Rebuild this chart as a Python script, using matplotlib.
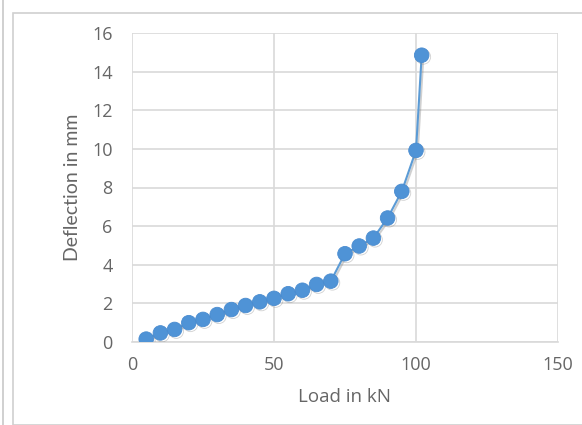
import matplotlib
matplotlib.use("Agg")
import matplotlib.pyplot as plt
import matplotlib.patheffects as pe
from matplotlib.patches import Rectangle
from matplotlib.lines import Line2D

load_kN = [5, 10, 15, 20, 25, 30, 35, 40, 45, 50, 55, 60, 65, 70,
           75, 80, 85, 90, 95, 100, 102]
deflection_mm = [0.15, 0.47, 0.65, 1.0, 1.17, 1.42, 1.68, 1.89, 2.08, 2.26,
                 2.5, 2.68, 2.98, 3.15, 4.57, 4.97, 5.38, 6.42, 7.8, 9.92, 14.85]
x_ticks = [0, 50, 100, 150]
y_ticks = [0, 2, 4, 6, 8, 10, 12, 14, 16]

plt.rcParams['font.family'] = ['Open Sans', 'DejaVu Sans']
txt = '#666666'

fig = plt.figure(figsize=(5.82, 4.25), dpi=100)
fig.patch.set_facecolor('white')

# outer chart frame and left line
fig.add_artist(Rectangle((12.5/582, 0), 1.0, 1 - 12.5/425, transform=fig.transFigure,
                         fill=False, edgecolor='#d0d0d0', linewidth=1.2))
fig.add_artist(Line2D([3/582, 3/582], [0, 1], transform=fig.transFigure,
                      color='#c8c8c8', linewidth=1.2))

ax = fig.add_axes([132/582, 1 - 342/425, (558 - 132)/582, (342 - 33)/425])
ax.plot(load_kN, deflection_mm, color='#5B9BD5', linewidth=1.5,
        marker='o', markersize=10.5, markerfacecolor='#4f93d6',
        markeredgecolor='#4a8cd0', markeredgewidth=0.6, zorder=3,
        path_effects=[pe.SimpleLineShadow(offset=(1.2, -1.2), shadow_color='#7a7a7a', alpha=0.35),
                      pe.Normal()])

ax.set_xlim(0, 150)
ax.set_ylim(0, 16)
ax.set_xticks(x_ticks)
ax.set_yticks(y_ticks)
ax.grid(True, color='#d9d9d9', linewidth=1.2)
ax.set_axisbelow(True)
for s in ax.spines.values():
    s.set_visible(False)
ax.plot([0, 150], [0, 0], color='#d9d9d9', linewidth=1.2, zorder=1, clip_on=False)
ax.tick_params(axis='x', length=0, labelsize=13, labelcolor=txt, pad=10)
ax.tick_params(axis='y', length=0, labelsize=13, labelcolor=txt, pad=14)
ax.set_xlabel('Load in kN', fontsize=13.5, color=txt, labelpad=10)
ax.set_ylabel('Deflection in mm', fontsize=14, color=txt, labelpad=8,
              family=['Lato', 'DejaVu Sans'])

fig.savefig('out.png', dpi=100)
